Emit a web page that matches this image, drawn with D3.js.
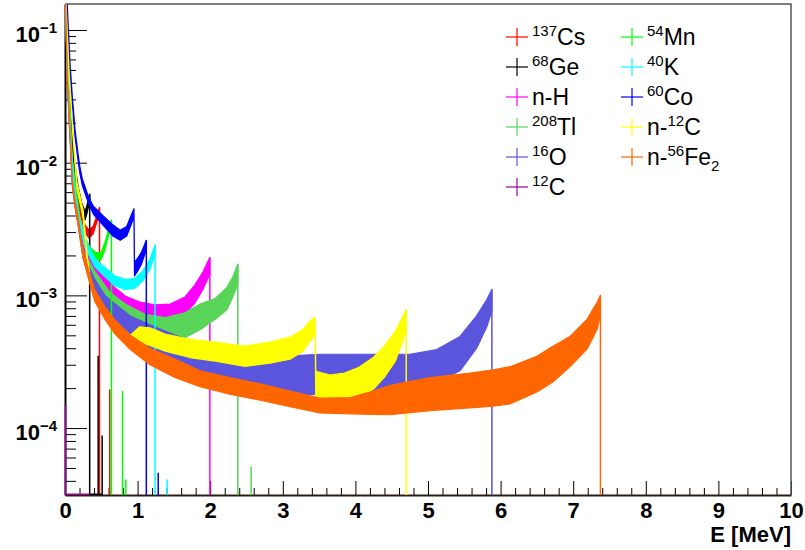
<!DOCTYPE html>
<html>
<head>
<meta charset="utf-8">
<script src="https://cdn.jsdelivr.net/npm/d3@7"></script>
<style>
body { margin: 0; background: #fff; }
svg { display: block; }
text { font-family: "Liberation Sans", Arial, sans-serif; }
</style>
</head>
<body>
<div id="visu"></div>
<script>

// draw order = legend order (column by column)
var labels = ["137Cs", "68Ge", "n-H", "208Tl", "16O", "12C", "54Mn", "40K", "60Co", "n-12C", "n-56Fe2"];
var colors = ["#ff0000", "#000000", "#ff00ff", "#58d558", "#5a55dc", "#990099", "#00ff00", "#00ffff", "#0000ff", "#ffff00", "#ff6600"];

// legend text pieces: prefix, superscript, symbol, subscript
var legPre = ["", "", "n-H", "", "", "", "", "", "", "n-", "n-"];
var legSup = ["137", "68", "", "208", "16", "12", "54", "40", "60", "12", "56"];
var legSym = ["Cs", "Ge", "", "Tl", "O", "C", "Mn", "K", "Co", "C", "Fe"];
var legSub = ["", "", "", "", "", "", "", "", "", "", "2"];

// spectra: [E (MeV), lower edge, upper edge] of the noisy band
var cs137 = [[0.008, 0.18, 0.2], [0.028, 0.078, 0.085], [0.069, 0.029, 0.032], [0.117, 0.0097, 0.0105], [0.165, 0.0055, 0.0061],
    [0.22, 0.0039, 0.0043], [0.275, 0.0030, 0.0034], [0.33, 0.0027, 0.0031], [0.386, 0.0029, 0.0033], [0.427, 0.0034, 0.0038],
    [0.475, 0.0041, 0.0046]];
var ge68 = [[0.008, 0.18, 0.2], [0.028, 0.080, 0.09], [0.076, 0.028, 0.033], [0.124, 0.0095, 0.0108], [0.179, 0.0059, 0.0067],
    [0.23, 0.0044, 0.0050], [0.275, 0.0037, 0.0043], [0.30, 0.0041, 0.0047], [0.34, 0.0051, 0.0058]];
var nH = [[0.006, 0.18, 0.2], [0.03, 0.05, 0.056], [0.055, 0.024, 0.028], [0.08, 0.013, 0.015], [0.103, 0.0068, 0.0076],
    [0.14, 0.0048, 0.0054], [0.18, 0.0036, 0.004], [0.25, 0.0021, 0.0024], [0.41, 0.00144, 0.0018], [0.55, 0.00107, 0.00138],
    [0.69, 0.00088, 0.00114], [0.83, 0.00075, 0.00099], [1.03, 0.00066, 0.00089], [1.24, 0.00060, 0.00085], [1.45, 0.00063, 0.00086],
    [1.65, 0.00072, 0.00097], [1.79, 0.00088, 0.0012], [1.90, 0.00111, 0.0015], [1.995, 0.00144, 0.00193]];
var tl208 = [[0.006, 0.18, 0.2], [0.03, 0.05, 0.056], [0.055, 0.024, 0.028], [0.08, 0.013, 0.015], [0.103, 0.0067, 0.0075],
    [0.14, 0.0047, 0.0053], [0.18, 0.0035, 0.0039], [0.25, 0.0019, 0.0022], [0.41, 0.00121, 0.00152], [0.62, 0.00078, 0.00105],
    [0.83, 0.00060, 0.00086], [1.10, 0.00049, 0.00072], [1.38, 0.00047, 0.00068], [1.65, 0.00048, 0.00074], [1.86, 0.00055, 0.00086],
    [2.07, 0.00066, 0.00095], [2.23, 0.00078, 0.00115], [2.31, 0.00097, 0.00137], [2.38, 0.00121, 0.00172]];
var o16 = [[0.005, 0.18, 0.2], [0.03, 0.046, 0.052], [0.055, 0.022, 0.026], [0.08, 0.012, 0.014], [0.103, 0.0066, 0.0074],
    [0.14, 0.0046, 0.0052], [0.18, 0.0034, 0.0039], [0.25, 0.0019, 0.0022], [0.33, 0.00135, 0.00165], [0.41, 0.00100, 0.00132],
    [0.55, 0.00074, 0.00100], [0.69, 0.00059, 0.00086], [0.90, 0.00047, 0.00070], [1.17, 0.00038, 0.00060], [1.52, 0.00031, 0.00050],
    [1.86, 0.00026, 0.00043], [2.27, 0.00023, 0.00039], [2.69, 0.00020, 0.00036], [3.10, 0.000175, 0.00035], [3.51, 0.00018, 0.00036],
    [3.93, 0.00019, 0.00036], [4.34, 0.00019, 0.00036], [4.75, 0.00020, 0.00036], [5.12, 0.00022, 0.00039], [5.44, 0.00027, 0.00049],
    [5.67, 0.00040, 0.00070], [5.81, 0.00058, 0.00093], [5.88, 0.00076, 0.00111]];
var mn54 = [[0.007, 0.18, 0.2], [0.03, 0.058, 0.064], [0.06, 0.026, 0.03], [0.1, 0.0095, 0.0108], [0.15, 0.0058, 0.0065],
    [0.207, 0.0034, 0.0038], [0.275, 0.0024, 0.0027], [0.344, 0.0020, 0.0023], [0.427, 0.00185, 0.0021], [0.496, 0.00185, 0.0021],
    [0.55, 0.0022, 0.0025], [0.59, 0.0027, 0.0030], [0.64, 0.0033, 0.0037]];
var k40 = [[0.006, 0.18, 0.2], [0.03, 0.052, 0.058], [0.06, 0.025, 0.028], [0.09, 0.011, 0.0125], [0.13, 0.0062, 0.0069],
    [0.19, 0.0036, 0.004], [0.275, 0.0023, 0.0027], [0.41, 0.00165, 0.0019], [0.55, 0.00138, 0.00162], [0.69, 0.00118, 0.0014],
    [0.83, 0.00111, 0.00132], [0.96, 0.00113, 0.00134], [1.07, 0.00128, 0.00152], [1.17, 0.00157, 0.00187], [1.24, 0.00203, 0.0024]];
var co60 = [[0.012, 0.19, 0.21], [0.028, 0.15, 0.17], [0.069, 0.050, 0.056], [0.10, 0.028, 0.032], [0.138, 0.0158, 0.0178],
    [0.18, 0.0104, 0.0116], [0.205, 0.0083, 0.0093], [0.24, 0.0067, 0.0075], [0.32, 0.0050, 0.0056], [0.39, 0.0041, 0.0047],
    [0.52, 0.0034, 0.0040], [0.66, 0.0028, 0.0034], [0.76, 0.0026, 0.0031], [0.85, 0.0028, 0.0033], [0.91, 0.0034, 0.0040],
    [0.95, 0.0039, 0.0045], [0.957, 0.0014, 0.00178], [1.0, 0.00152, 0.0019], [1.05, 0.0017, 0.0021], [1.08, 0.0019, 0.0023],
    [1.12, 0.0022, 0.0026]];
var nC12 = [[0.008, 0.18, 0.2], [0.03, 0.09, 0.1], [0.058, 0.042, 0.047], [0.08, 0.028, 0.031], [0.105, 0.017, 0.019],
    [0.13, 0.011, 0.012], [0.165, 0.0063, 0.0071], [0.22, 0.0046, 0.0052], [0.25, 0.0038, 0.0044], [0.28, 0.0025, 0.0029],
    [0.31, 0.0017, 0.0019], [0.344, 0.00125, 0.0014], [0.41, 0.00092, 0.00108], [0.55, 0.00068, 0.0008], [0.69, 0.00053, 0.00064],
    [0.90, 0.00041, 0.0005], [1.03, 0.00044, 0.00058], [1.17, 0.00042, 0.00057], [1.38, 0.00038, 0.00051],
    [1.72, 0.00034, 0.000467], [2.07, 0.00032, 0.000444], [2.48, 0.000292, 0.000414], [2.82, 0.000308, 0.000444],
    [3.10, 0.00033, 0.000484], [3.28, 0.000379, 0.000555], [3.37, 0.000451, 0.000638], [3.445, 0.000509, 0.000683],
    [3.455, 0.000151, 0.000268], [3.65, 0.000146, 0.000251], [3.85, 0.000157, 0.00026], [4.05, 0.000171, 0.000287],
    [4.25, 0.000197, 0.000342], [4.40, 0.000242, 0.000414], [4.55, 0.000319, 0.000536], [4.65, 0.000451, 0.000683],
    [4.70, 0.000555, 0.000785]];
var nFe56 = [[0.005, 0.18, 0.2], [0.03, 0.045, 0.05], [0.055, 0.022, 0.025], [0.08, 0.012, 0.0135], [0.103, 0.0066, 0.0074],
    [0.14, 0.0046, 0.0052], [0.18, 0.0034, 0.0039], [0.25, 0.0019, 0.0022], [0.33, 0.0013, 0.00152], [0.41, 0.00090, 0.00110],
    [0.55, 0.00066, 0.00082], [0.69, 0.00051, 0.00065], [0.90, 0.00039, 0.00050], [1.17, 0.00030, 0.00040], [1.52, 0.00024, 0.00033],
    [1.86, 0.000205, 0.00027], [2.27, 0.00018, 0.00024], [2.69, 0.000162, 0.000215], [3.10, 0.000145, 0.00019],
    [3.51, 0.00013, 0.000168], [3.93, 0.000128, 0.00017], [4.25, 0.000127, 0.00019], [4.48, 0.000126, 0.00021],
    [5.03, 0.000135, 0.00024], [5.58, 0.000142, 0.00026], [5.9, 0.000146, 0.000275], [6.13, 0.000152, 0.00029],
    [6.50, 0.000187, 0.000347], [6.72, 0.000222, 0.000414], [6.96, 0.000292, 0.000492], [7.19, 0.000393, 0.00066],
    [7.33, 0.000555, 0.000886], [7.375, 0.00072, 0.0010]];

// isolated bins past the Compton edges: [label, E, content]
var lonelyBins = [["137Cs", 0.61, 1.95e-4], ["68Ge", 0.45, 3.5e-4], ["68Ge", 0.505, 8.8e-5], ["208Tl", 2.557, 5.1e-5],
    ["12C", 0.0, 1.47e-4], ["54Mn", 0.785, 1.9e-4], ["54Mn", 0.83, 4.1e-5], ["40K", 1.40, 4.1e-5], ["60Co", 1.277, 4.6e-5]];
// empty bins drawn along the bottom: [label, from E, to E]
var zeroRuns = [["12C", 0.0, 0.34], ["68Ge", 0.34, 0.505]];

var xTicks = [0, 1, 2, 3, 4, 5, 6, 7, 8, 9, 10];
var yTicks = [1e-4, 1e-3, 1e-2, 1e-1];
var yRange = [3.13e-5, 0.157];

var bands = [cs137, ge68, nH, tl208, o16, null, mn54, k40, co60, nC12, nFe56];

function drawChart() {
    var width = 805, height = 550;
    var mLeft = 65, mRight = 791, mTop = 4, mBottom = 495;

    var svg = d3.select("#visu").append("svg")
        .attr("width", width)
        .attr("height", height);

    svg.append("rect").attr("width", width).attr("height", height).attr("fill", "#fff");

    var x = d3.scaleLinear().domain([0, 10]).range([mLeft, mRight]);
    var y = d3.scaleLog().domain(yRange).range([mBottom, mTop]);

    svg.append("defs").append("clipPath").attr("id", "frame")
        .append("rect").attr("x", mLeft - 2).attr("y", mTop).attr("width", mRight - mLeft + 2).attr("height", mBottom - mTop);

    // minor ticks first
    var yMinor = [];
    for (var e = -5; e <= -1; e++) {
        for (var k = 2; k <= 9; k++) {
            var v = k * Math.pow(10, e);
            if (v > yRange[0] && v < yRange[1]) yMinor.push(v);
        }
    }
    svg.append("g")
        .attr("transform", "translate(" + mLeft + ",0)")
        .call(d3.axisLeft(y).tickValues(yMinor).tickSize(-11).tickSizeOuter(0).tickFormat(""))
        .call(function (g) { g.select(".domain").remove(); });

    var xMinor = d3.range(0, 50).filter(function (i) { return i % 5 != 0; }).map(function (i) { return i / 5; });
    svg.append("g")
        .attr("transform", "translate(0," + mBottom + ")")
        .call(d3.axisBottom(x).tickValues(xMinor).tickSize(-7).tickSizeOuter(0).tickFormat(""))
        .call(function (g) { g.select(".domain").remove(); });

    // major ticks + labels
    var yAxis = svg.append("g")
        .attr("transform", "translate(" + mLeft + ",0)")
        .call(d3.axisLeft(y).tickValues(yTicks).tickSize(-22).tickSizeOuter(0).tickPadding(8));
    yAxis.select(".domain").attr("stroke", "#000").attr("stroke-width", 2);
    yAxis.selectAll(".tick text")
        .attr("dy", null).attr("y", 11.5)
        .attr("font-size", 22).attr("font-weight", "bold").attr("fill", "#000")
        .each(function (d) {
            var t = d3.select(this).text("10");
            t.append("tspan").attr("dy", -9).attr("font-size", 15).text("\u2212" + Math.round(-Math.log10(d)));
        });

    var xAxis = svg.append("g")
        .attr("transform", "translate(0," + mBottom + ")")
        .call(d3.axisBottom(x).tickValues(xTicks).tickSize(-14).tickSizeOuter(0).tickPadding(7.5).tickFormat(d3.format("d")));
    xAxis.select(".domain").attr("stroke", "#2e1c12").attr("stroke-width", 2);
    xAxis.selectAll(".tick text")
        .attr("font-size", 22).attr("font-weight", "bold").attr("fill", "#000");

    svg.selectAll(".tick line").attr("stroke", "#000").attr("stroke-width", 1);

    // frame top / right
    svg.append("path")
        .attr("d", "M" + mLeft + "," + mTop + "H" + mRight + "V" + mBottom)
        .attr("fill", "none").attr("stroke", "#555").attr("stroke-width", 1.5);

    svg.append("text")
        .attr("x", mRight).attr("y", 542)
        .attr("text-anchor", "end")
        .attr("font-size", 22).attr("font-weight", "bold")
        .text("E [MeV]");

    // spectra
    var plot = svg.append("g").attr("clip-path", "url(#frame)");

    var band = d3.area()
        .x(function (d) { return x(d[0]); })
        .y0(function (d) { return y(d[1]); })
        .y1(function (d) { return y(d[2]); });

    labels.forEach(function (name, i) {
        var g = plot.append("g");
        var pts = bands[i];
        if (pts) {
            g.append("path")
                .attr("d", band(pts))
                .attr("fill", colors[i])
                .attr("stroke", colors[i])
                .attr("stroke-width", 1.2)
                .attr("stroke-linejoin", "round");
            var last = pts[pts.length - 1];
            // drop to zero past the edge
            g.append("line")
                .attr("x1", x(last[0])).attr("x2", x(last[0]))
                .attr("y1", y(last[2])).attr("y2", mBottom)
                .attr("stroke", colors[i]).attr("stroke-width", 1.5);
        }
        lonelyBins.filter(function (b) { return b[0] == name; }).forEach(function (b) {
            g.append("line")
                .attr("x1", x(b[1]) + 0.5).attr("x2", x(b[1]) + 0.5)
                .attr("y1", y(b[2])).attr("y2", mBottom)
                .attr("stroke", colors[i]).attr("stroke-width", 1.5);
        });
        zeroRuns.filter(function (r) { return r[0] == name; }).forEach(function (r) {
            g.append("line")
                .attr("x1", x(r[1])).attr("x2", x(r[2]))
                .attr("y1", mBottom - 0.5).attr("y2", mBottom - 0.5)
                .attr("stroke", colors[i]).attr("stroke-width", 2);
        });
    });

    // legend, two columns, no border
    var legend = svg.append("g");
    labels.forEach(function (name, i) {
        var col = i < 6 ? 0 : 1;
        var row = col == 0 ? i : i - 6;
        var mx = col == 0 ? 517 : 632;
        var base = 45 + row * 30;
        var cy = base - 8;
        var e = legend.append("g");
        e.append("line").attr("x1", mx - 11).attr("x2", mx + 11).attr("y1", cy).attr("y2", cy)
            .attr("stroke", colors[i]).attr("stroke-width", 1.2);
        e.append("line").attr("x1", mx).attr("x2", mx).attr("y1", cy - 9).attr("y2", cy + 9)
            .attr("stroke", colors[i]).attr("stroke-width", 1.2);

        var t = e.append("text").attr("x", mx + 15).attr("y", base)
            .attr("font-size", 23).attr("fill", "#000");
        if (legPre[i]) t.append("tspan").text(legPre[i]);
        if (legSup[i]) t.append("tspan").attr("dy", -9).attr("font-size", 15).text(legSup[i]);
        if (legSym[i]) t.append("tspan").attr("dy", legSup[i] ? 9 : 0).text(legSym[i]);
        if (legSub[i]) t.append("tspan").attr("dy", 6).attr("font-size", 15).text(legSub[i]);
    });
}

drawChart();

</script>
</body>
</html>
